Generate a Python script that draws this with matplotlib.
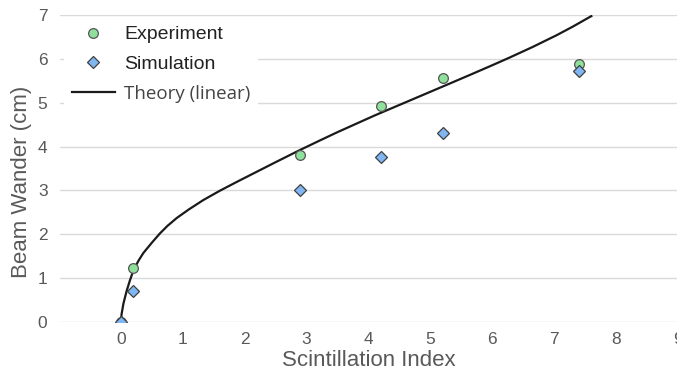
import matplotlib.pyplot as plt

# scintillation index vs beam wander (cm)
exp_x = [0, 0.2, 2.9, 4.2, 5.2, 7.4]
exp_y = [0, 1.22, 3.80, 4.92, 5.57, 5.89]
sim_x = [0, 0.2, 2.9, 4.2, 5.2, 7.4]
sim_y = [0, 0.70, 3.01, 3.77, 4.30, 5.72]
theory_x = [0, 0.01, 0.04, 0.09, 0.145, 0.2, 0.28, 0.36, 0.5, 0.63, 0.75, 0.9,
            1.1, 1.33, 1.6, 1.9, 2.2, 2.5, 2.89, 3.2, 3.5, 3.8, 4.1, 4.4, 4.7,
            5.0, 5.3, 5.64, 6.0, 6.28, 6.65, 7.04, 7.3, 7.6]
theory_y = [0, 0.18, 0.42, 0.70, 0.95, 1.17, 1.39, 1.57, 1.81, 2.02, 2.19, 2.37,
            2.57, 2.78, 2.995, 3.215, 3.43, 3.645, 3.92, 4.13, 4.33, 4.52, 4.71,
            4.89, 5.07, 5.25, 5.43, 5.635, 5.855, 6.03, 6.27, 6.54, 6.735, 6.975]
xticks = [0, 1, 2, 3, 4, 5, 6, 7, 8, 9]
yticks = [0, 1, 2, 3, 4, 5, 6, 7]

gray = '#595959'
fig = plt.figure(figsize=(6.77, 3.75), dpi=100)
ax = fig.add_axes([60 / 677, 53 / 375, 618 / 677, 307 / 375])

ax.plot(exp_x, exp_y, 'o', ms=7, mfc='#8fe09a', mec='#555555', mew=0.9,
        label='Experiment', zorder=3)
ax.plot(sim_x, sim_y, 'D', ms=6.5, mfc='#80b6f2', mec='#404040', mew=0.9,
        label='Simulation', zorder=3)
ax.plot(theory_x, theory_y, '-', color='#1a1a1a', lw=1.6,
        solid_joinstyle='round', label='Theory (linear)', zorder=2)

ax.set_xlim(-0.985, 9.0)
ax.set_ylim(0, 7)
ax.set_xticks(xticks)
ax.set_yticks(yticks)
ax.grid(axis='y', color='#d9d9d9', lw=1)
ax.set_axisbelow(True)
for s in ax.spines.values():
    s.set_visible(False)
ax.tick_params(axis='x', pad=7)
ax.tick_params(axis='y', pad=9)
ax.tick_params(length=0, labelsize=12.5, labelcolor=gray)
for t in ax.get_xticklabels() + ax.get_yticklabels():
    t.set_family('Liberation Sans')
ax.set_xlabel('Scintillation Index', fontsize=16, color=gray,
              family='Liberation Sans', va='center')
ax.set_ylabel('Beam Wander (cm)', fontsize=16, color=gray,
              family='Liberation Sans', va='center')
ax.xaxis.set_label_coords(0.5, -0.125)
ax.yaxis.set_label_coords(-0.062, 0.455)

leg = ax.legend(loc='upper left', bbox_to_anchor=(0.0065, 0.99), frameon=True,
                facecolor='white', edgecolor='none', framealpha=1,
                prop={'family': 'Liberation Sans', 'size': 14},
                handlelength=2.2, handletextpad=0.5, borderaxespad=0,
                borderpad=0.4, labelspacing=0.62)
for t in leg.get_texts():
    t.set_color('#222222')
leg.get_texts()[2].set_family('Open Sans')
leg.get_texts()[2].set_size(13.5)
leg.get_texts()[2].set_color('#444444')

fig.savefig('out.png', dpi=100)
